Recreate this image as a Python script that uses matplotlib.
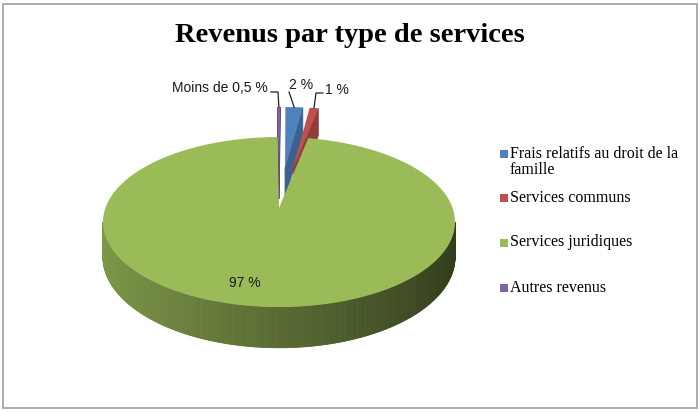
import numpy as np
import matplotlib
matplotlib.use("Agg")
import matplotlib.pyplot as plt
from matplotlib.patches import Polygon, Rectangle
from matplotlib.colors import to_rgb

title = "Revenus par type de services"
categories = ["Frais relatifs au droit de la\nfamille", "Services communs",
              "Services juridiques", "Autres revenus"]
values = [2.0, 1.0, 97.0, 0.3]
pct_labels = ["2 %", "1 %", "97 %", "Moins de 0,5 %"]
colors = ["#4f81bd", "#c0504d", "#9bbb59", "#8064a2"]
explode = [0.53, 0.53, 0.0, 0.53]

# projection of the pie plane (pixel space, y down)
CX, CY = 279.0, 208.0
RX, A, K, H = 173.6, 82.7, 0.165, 34.0


def proj(u, v, z):
    d = 1 + K * v
    return CX + RX * u / d, CY - (A * v + H * z) / d


fig = plt.figure(figsize=(7, 4.13), dpi=100)
ax = fig.add_axes([0, 0, 1, 1])
wedges, _ = ax.pie(values, startangle=89.5, counterclock=False, explode=explode,
                   radius=1)
geom = [(w.theta1, w.theta2, w.center, w.r) for w in wedges]
for w in wedges:
    w.remove()
ax.set_aspect("auto")
ax.set_xlim(0, 700)
ax.set_ylim(413, 0)
ax.axis("off")


def draw_slice(i, radial_shade=None):
    t1, t2, (cu, cv), r = geom[i]
    n = max(int(abs(t2 - t1) * 2), 4)
    th = np.radians(np.linspace(t1, t2, n))
    us = np.concatenate([[cu], cu + r * np.cos(th)])
    vs = np.concatenate([[cv], cv + r * np.sin(th)])
    top = np.array([proj(u, v, 0) for u, v in zip(us, vs)])
    bot = np.array([proj(u, v, -1) for u, v in zip(us, vs)])
    base = np.array(to_rgb(colors[i]))
    m = len(us)
    for j in range(m):
        k = (j + 1) % m
        quad = np.array([top[j], top[k], bot[k], bot[j]])
        x, y = quad[:, 0], quad[:, 1]
        area = np.sum(x * np.roll(y, -1) - np.roll(x, -1) * y)
        if area <= 0:
            continue
        du, dv = us[k] - us[j], vs[k] - vs[j]
        nu = dv / (np.hypot(du, dv) + 1e-12)
        radial = (j == 0) or (k == 0)
        if radial and radial_shade is not None:
            f = radial_shade
        else:
            f = 0.57 - 0.25 * nu
        ax.add_patch(Polygon(quad, closed=True, facecolor=base * f,
                             edgecolor=base * f, lw=0.6))
    ax.add_patch(Polygon(top, closed=True, facecolor=colors[i],
                         edgecolor="none"))
    mid = np.radians((t1 + t2) / 2)
    return proj(cu + r * np.cos(mid), cv + r * np.sin(mid), 0)


# back slices first, then the big one in front
anchors = {}
for i in [3, 0, 1]:
    anchors[i] = draw_slice(i, radial_shade=0.75)
anchors[2] = draw_slice(2)

lab_font = dict(family="Liberation Sans", fontsize=10, color="#1a1a1a")
# data labels with leader lines
ax.text(268, 88, pct_labels[3], ha="right", va="center", **lab_font)
px, py = anchors[3]
ax.plot([271, 278, px], [92, 92, py], color="#222222", lw=0.9)
ax.text(301, 85, pct_labels[0], ha="center", va="center", **lab_font)
px, py = anchors[0]
ax.plot([289, px], [92, py], color="#222222", lw=0.9)
ax.text(325, 90, pct_labels[1], ha="left", va="center", **lab_font)
px, py = anchors[1]
ax.plot([323, 316, px], [93, 93, py], color="#222222", lw=0.9)
ax.text(245, 283, pct_labels[2], ha="center", va="center", **lab_font)

# title
ax.text(350, 35, title, ha="center", va="center", family="Liberation Serif",
        fontsize=20.5, fontweight="bold", color="black")

# legend
leg_y = [154, 198, 243, 288]
for c, lab, y in zip(colors, categories, leg_y):
    ax.add_patch(Rectangle((500, y - 4), 8, 8, facecolor=c,
                           edgecolor="none"))
    ax.text(510, y - 8.5, lab, ha="left", va="top", family="Liberation Serif",
            fontsize=11.5, color="black", linespacing=1.05)

# chart border
fig.patches.append(Rectangle((3 / 700, 5 / 413), 694 / 700, 404 / 413,
                             transform=fig.transFigure, fill=False,
                             edgecolor="#a6a6a6", lw=1.3))

fig.savefig("out.png", dpi=100)
